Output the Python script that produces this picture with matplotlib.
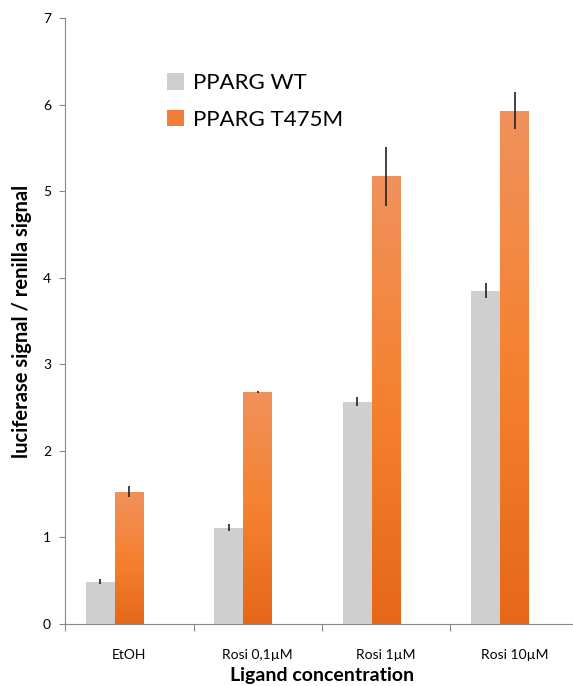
import numpy as np
import matplotlib
matplotlib.use("Agg")
from matplotlib import pyplot as plt
from matplotlib.colors import LinearSegmentedColormap
from matplotlib.patches import Patch

categories = ["EtOH", "Rosi 0,1\u00b5M", "Rosi 1\u00b5M", "Rosi 10\u00b5M"]
wt_vals = [0.49, 1.11, 2.57, 3.85]
wt_err = [0.03, 0.04, 0.05, 0.09]
mut_vals = [1.53, 2.68, 5.17, 5.93]
mut_err = [0.06, 0.01, 0.34, 0.21]
series_names = ["PPARG WT", "PPARG T475M"]

plt.rcParams['font.family'] = ['Lato', 'DejaVu Sans']

fig = plt.figure(figsize=(5.73, 6.86), dpi=100)
ax = fig.add_axes([65 / 573, 62 / 686, 514 / 573, 606 / 686])

x = np.arange(len(categories))
w = 0.225
gray = "#d0cfd0"
orange_cmap = LinearSegmentedColormap.from_list(
    "org", ["#e6671a", "#f58230", "#f0915c"])

wt_bars = ax.bar(x - w, wt_vals, w, color=gray, zorder=2)
mut_bars = ax.bar(x, mut_vals, w, color="#f58230", zorder=2)

# gradient fill for orange bars
grad = np.linspace(0, 1, 256).reshape(-1, 1)
for b in mut_bars:
    x0, y0 = b.get_x(), b.get_y()
    im = ax.imshow(grad, cmap=orange_cmap, origin="lower", aspect="auto",
                   extent=[x0, x0 + b.get_width(), y0, y0 + b.get_height()],
                   zorder=2.5)
    im.set_clip_path(b)

ax.errorbar(x - w, wt_vals, yerr=wt_err, fmt="none", ecolor="#222222",
            elinewidth=1.2, capsize=0, zorder=3)
ax.errorbar(x, mut_vals, yerr=mut_err, fmt="none", ecolor="#222222",
            elinewidth=1.2, capsize=0, zorder=3)

ax.set_xlim(-0.5, len(categories) - 0.5)
ax.set_ylim(0, 7)
ax.set_yticks(range(0, 8))
ax.tick_params(axis="y", direction="out", length=4, color="#888888",
               labelsize=10, pad=6)
ax.set_xticks(np.arange(-0.5, len(categories), 1.0))
ax.set_xticklabels([])
ax.set_xticks(x, minor=True)
ax.set_xticklabels(categories, minor=True, fontsize=10)
ax.tick_params(axis="x", which="major", direction="out", length=5,
               color="#888888")
ax.tick_params(axis="x", which="minor", length=0, pad=18)

for s in ["top", "right"]:
    ax.spines[s].set_visible(False)
for s in ["left", "bottom"]:
    ax.spines[s].set_color("#888888")

ax.set_ylabel("luciferase signal / renilla signal", fontsize=14.5,
              fontweight="bold", labelpad=8)
ax.set_xlabel("Ligand concentration", fontsize=14, fontweight="bold",
              labelpad=4)

# legend
handles = [Patch(facecolor=gray), Patch(facecolor="#f07f38")]
leg = ax.legend(handles, series_names, loc="upper left",
                bbox_to_anchor=(0.16, 0.942), frameon=False, fontsize=16,
                handlelength=0.75, handleheight=0.75, handletextpad=0.4,
                labelspacing=0.75)

fig.savefig("out.png", dpi=100)
